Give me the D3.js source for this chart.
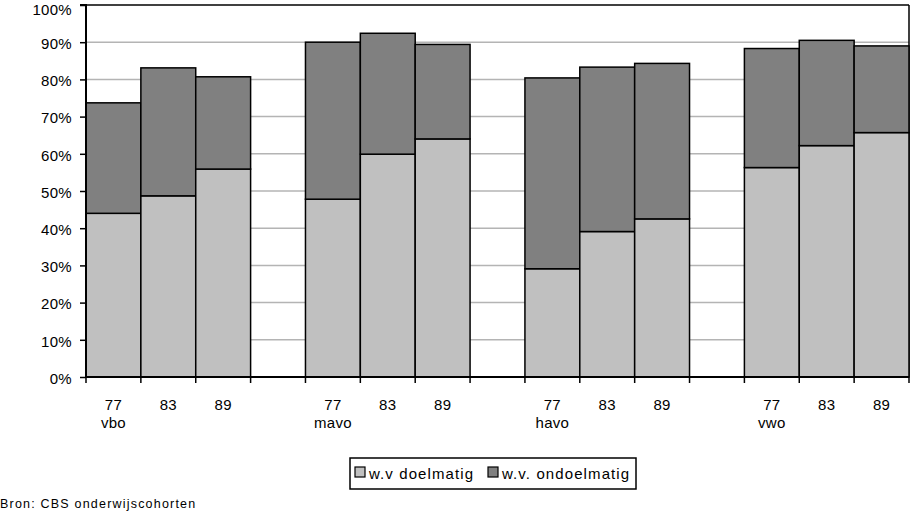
<!DOCTYPE html>
<html><head><meta charset="utf-8">
<script src="https://cdn.jsdelivr.net/npm/d3@7"></script>
<style>body{margin:0;background:#fff;} svg{display:block;font-family:"Liberation Sans",Arial,sans-serif;}</style>
</head><body>
<svg id="chart" width="911" height="513"></svg>
<script>
const groups = ["vbo","mavo","havo","vwo"];
const years = ["77","83","89"];
const doelmatig   = [44.0,48.7,55.9, 47.8,59.9,64.0, 29.1,39.1,42.5, 56.3,62.2,65.7];
const ondoelmatig = [29.7,34.4,24.8, 42.2,32.5,25.4, 51.3,44.2,41.8, 32.0,28.3,23.3];
const yTicks = [0,10,20,30,40,50,60,70,80,90,100];
const seriesNames = ["w.v doelmatig","w.v. ondoelmatig"];
const colors = ["#c0c0c0","#808080"];

// build category slots: 3 years per group with a blank slot between groups
const slots = [];
const bars = [];
groups.forEach((g,gi)=>{
  years.forEach((y,yi)=>{
    const id = g+"-"+y;
    slots.push(id);
    const i = gi*3+yi;
    bars.push({id, year:y, group:g, first:yi===0, d:doelmatig[i], o:ondoelmatig[i]});
  });
  if (gi<groups.length-1) slots.push("gap"+gi);
});

const svg = d3.select("#chart");
const L=86, R=909, T=5, B=377;
const x = d3.scaleBand().domain(slots).range([L,R]).padding(0);
const y = d3.scaleLinear().domain([0,100]).range([B,T]);

// gridlines
svg.append("g").selectAll("line").data(yTicks.filter(d=>d>0 && d<100)).join("line")
  .attr("x1",L).attr("x2",R).attr("y1",d=>y(d)).attr("y2",d=>y(d))
  .attr("stroke","#b4b4b4").attr("stroke-width",1.5);

// frame top & right
svg.append("line").attr("x1",L).attr("x2",R).attr("y1",y(100)).attr("y2",y(100)).attr("stroke","#000").attr("stroke-width",1.5);
svg.append("line").attr("x1",R).attr("x2",R).attr("y1",y(100)).attr("y2",B).attr("stroke","#000").attr("stroke-width",1.5);

// bars
const bg = svg.append("g");
bars.forEach(b=>{
  const x0 = x(b.id), w = x.bandwidth();
  bg.append("rect").attr("x",x0).attr("width",w).attr("y",y(b.d)).attr("height",y(0)-y(b.d))
    .attr("fill",colors[0]).attr("stroke","#000").attr("stroke-width",1.5);
  bg.append("rect").attr("x",x0).attr("width",w).attr("y",y(b.d+b.o)).attr("height",y(b.d)-y(b.d+b.o))
    .attr("fill",colors[1]).attr("stroke","#000").attr("stroke-width",1.5);
});

// y axis
const yAxis = d3.axisLeft(y).tickValues(yTicks).tickFormat(d=>d+"%").tickSize(6).tickPadding(8);
const ya = svg.append("g").attr("transform",`translate(${L},0)`).call(yAxis);
ya.select(".domain").attr("stroke","#000").attr("stroke-width",2).attr("d",`M-6,${y(100)}H0V${B}`);
ya.selectAll(".tick line").attr("stroke","#000").attr("stroke-width",1.5);
ya.selectAll("text").attr("font-size",15).attr("fill","#000").attr("letter-spacing",0.3)
  .attr("font-family","Liberation Sans, Arial, sans-serif")
  .attr("dy",d=>d===100?"0.6em":"0.42em");

// x axis
const xa = svg.append("g").attr("transform",`translate(0,${B})`);
xa.append("line").attr("x1",L).attr("x2",R).attr("stroke","#000").attr("stroke-width",2);
const bounds = slots.map(s=>x(s)).concat([R]);
xa.selectAll(".tk").data(bounds).join("line").attr("class","tk")
  .attr("x1",d=>d).attr("x2",d=>d).attr("y1",0).attr("y2",6).attr("stroke","#000").attr("stroke-width",1.5);
xa.selectAll(".yl").data(bars).join("text").attr("class","yl")
  .attr("x",d=>x(d.id)+x.bandwidth()/2).attr("y",33).attr("text-anchor","middle")
  .attr("font-size",15).attr("letter-spacing",0.3).text(d=>d.year);
xa.selectAll(".gl").data(bars.filter(b=>b.first)).join("text").attr("class","gl")
  .attr("x",d=>x(d.id)+x.bandwidth()/2).attr("y",51).attr("text-anchor","middle")
  .attr("font-size",15).attr("letter-spacing",0.3).text(d=>d.group);

// legend
const lg = svg.append("g").attr("transform","translate(350,458)");
lg.append("rect").attr("width",286).attr("height",31).attr("fill","#fff").attr("stroke","#000").attr("stroke-width",1.5);
const items = [{n:seriesNames[0],c:colors[0],x:5},{n:seriesNames[1],c:colors[1],x:138}];
items.forEach(it=>{
  lg.append("rect").attr("x",it.x).attr("y",9).attr("width",10).attr("height",10).attr("fill",it.c).attr("stroke","#000").attr("stroke-width",1.2);
  lg.append("text").attr("x",it.x+14).attr("y",21).attr("font-size",15).attr("letter-spacing",1.1).text(it.n);
});

// source
svg.append("text").attr("x",0).attr("y",508).attr("font-size",12.5).attr("letter-spacing",1.2).text("Bron: CBS onderwijscohorten");
</script>
</body></html>
